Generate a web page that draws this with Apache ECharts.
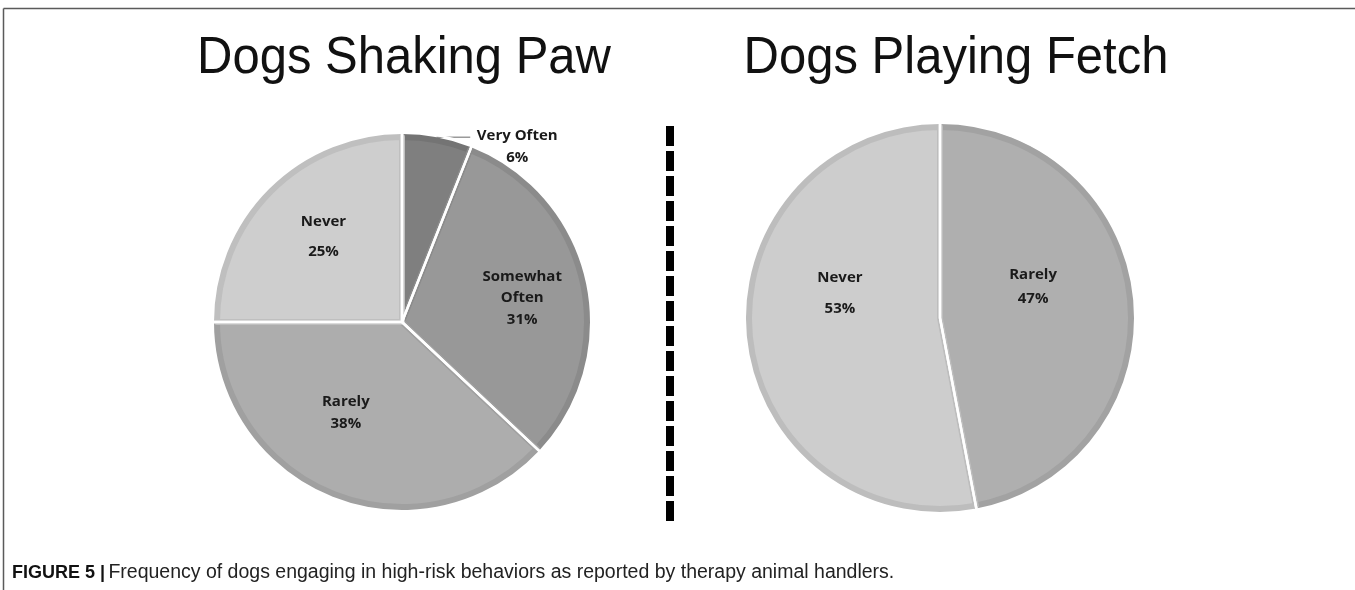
<!DOCTYPE html>
<html><head><meta charset="utf-8">
<script src="https://cdn.jsdelivr.net/npm/echarts@6/dist/echarts.min.js"></script>
<style>html,body{margin:0;padding:0;background:#fff}#c{width:1355px;height:590px}</style>
</head><body><div id="c"></div>
<script>
// ---- data ----
const shakeCats = ['Very Often', 'Somewhat Often', 'Rarely', 'Never'];
const shakeLabels = ['Very Often', 'Somewhat\nOften', 'Rarely', 'Never'];
const shakeVals = [6, 31, 38, 25];
const fetchCats = ['Rarely', 'Never'];
const fetchLabels = ['Rarely', 'Never'];
const fetchVals = [47, 53];
const chartTitles = ['Dogs Shaking Paw', 'Dogs Playing Fetch'];
const captionBold = 'FIGURE 5 |';
const captionText = 'Frequency of dogs engaging in high-risk behaviors as reported by therapy animal handlers.';

// ---- styles ----
const shakeFill = ['#7f7f7f', '#989898', '#adadad', '#cecece'];
const shakeBand = ['#747474', '#8b8b8b', '#a0a0a0', '#bfbfbf'];
const shakeOffsets = [null, [27, -3], [-21, 2], [-11, -18]];
const shakeLineH = [22, 21.5, 22, 30];
const fetchFill = ['#afafaf', '#cdcdcd'];
const fetchBand = ['#a2a2a2', '#bdbdbd'];
const fetchOffsets = [[-5, -22], [-2, -34]];
const fetchLineH = [24, 31];

const LABEL_FONT = { fontFamily: 'Open Sans', fontWeight: 'bold', fontSize: 15, color: '#1a1a1a' };

function fillData(cats, labels, vals, fill, band, offsets, lineH, outsideIdx) {
  return cats.map((c, i) => {
    const item = {
      name: c, value: vals[i],
      itemStyle: { color: fill[i], borderColor: band[i], borderWidth: 6 }
    };
    if (i === outsideIdx) {
      item.label = {
        show: true, position: 'outside',
        formatter: '{a|' + labels[i] + '}\n{a|' + vals[i] + '%}',
        padding: [19, 0, 0, 0],
        rich: { a: Object.assign({ width: 84, align: 'center', lineHeight: 22 }, LABEL_FONT) }
      };
      item.labelLine = { show: true, length: 3, length2: 33, lineStyle: { color: '#9a9a9a', width: 1.5 } };
    } else {
      item.label = {
        show: true, position: 'inside',
        formatter: labels[i] + '\n' + vals[i] + '%',
        offset: offsets[i], lineHeight: lineH[i], align: 'center'
      };
      item.labelLine = { show: false };
    }
    return item;
  });
}
function gapData(cats, vals) {
  return cats.map((c, i) => ({ name: c, value: vals[i] }));
}

const TITLE_FONT = '49px "Liberation Sans", Arial, sans-serif';
const CAP_FONT = '"Liberation Sans", Arial, sans-serif';

const chart = echarts.init(document.getElementById('c'), null, { renderer: 'canvas' });
chart.setOption({
  backgroundColor: '#fff',
  animation: false,
  graphic: [
    { type: 'line', shape: { x1: 3.5, y1: 8.5, x2: 1355, y2: 8.5 }, style: { stroke: '#5a5a5a', lineWidth: 1.5 } },
    { type: 'line', shape: { x1: 3.5, y1: 8.5, x2: 3.5, y2: 590 }, style: { stroke: '#5a5a5a', lineWidth: 1.5 } },
    { type: 'line', shape: { x1: 670, y1: 126, x2: 670, y2: 521 }, style: { stroke: '#000', lineWidth: 8, lineDash: [20, 5] } },
    { type: 'text', x: 404, y: 59, scaleY: 1.06, style: { text: chartTitles[0], font: TITLE_FONT, fill: '#111', textAlign: 'center', textVerticalAlign: 'middle', align: 'center', verticalAlign: 'middle' } },
    { type: 'text', x: 956, y: 59, scaleY: 1.06, style: { text: chartTitles[1], font: TITLE_FONT, fill: '#111', textAlign: 'center', textVerticalAlign: 'middle', align: 'center', verticalAlign: 'middle' } },
    { type: 'text', x: 12, y: 573, style: {
        text: '{b|' + captionBold + '} {r|' + captionText + '}',
        textVerticalAlign: 'middle', verticalAlign: 'middle',
        rich: {
          b: { fontFamily: CAP_FONT, fontWeight: 'bold', fontSize: 18, fill: '#111', color: '#111' },
          r: { fontFamily: CAP_FONT, fontSize: 19.5, fill: '#222', color: '#222' }
        } } }
  ],
  series: [
    {
      type: 'pie', center: [402, 322], radius: 185, startAngle: 90, clockwise: true,
      avoidLabelOverlap: false, silent: true,
      label: Object.assign({}, LABEL_FONT),
      data: fillData(shakeCats, shakeLabels, shakeVals, shakeFill, shakeBand, shakeOffsets, shakeLineH, 0)
    },
    {
      type: 'pie', center: [402, 322], radius: 190, startAngle: 90, clockwise: true, silent: true, z: 3,
      label: { show: false }, labelLine: { show: false },
      itemStyle: { color: 'rgba(0,0,0,0)', borderColor: '#ffffff', borderWidth: 2.5 },
      data: gapData(shakeCats, shakeVals)
    },
    {
      type: 'pie', center: [940, 318], radius: 191, startAngle: 90, clockwise: true,
      avoidLabelOverlap: false, silent: true,
      label: Object.assign({}, LABEL_FONT),
      data: fillData(fetchCats, fetchLabels, fetchVals, fetchFill, fetchBand, fetchOffsets, fetchLineH, -1)
    },
    {
      type: 'pie', center: [940, 318], radius: 196, startAngle: 90, clockwise: true, silent: true, z: 3,
      label: { show: false }, labelLine: { show: false },
      itemStyle: { color: 'rgba(0,0,0,0)', borderColor: '#ffffff', borderWidth: 2.5 },
      data: gapData(fetchCats, fetchVals)
    }
  ]
});
</script>
</body></html>
